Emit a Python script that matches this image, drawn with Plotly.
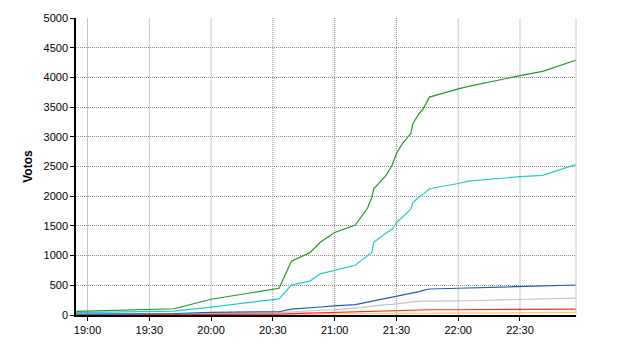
import plotly.graph_objects as go

day = "2000-01-01 "
times = ["18:54","19:42","20:00","20:33","20:39","20:48","20:53","21:00","21:10","21:13",
         "21:16","21:18","21:19","21:21","21:25","21:28","21:30","21:33","21:35","21:37",
         "21:38","21:41","21:43","21:46","22:00","22:05","22:30","22:41","22:57"]

green = [60,105,265,450,905,1050,1225,1390,1515,1650,
         1800,1975,2125,2200,2350,2530,2725,2890,2980,3055,
         3225,3390,3470,3668,3806,3850,4029,4101,4289]
cyan = [40,65,133,271,505,571,693,754,837,920,
        990,1050,1225,1280,1380,1448,1558,1650,1710,1781,
        1891,1991,2031,2125,2214,2253,2330,2350,2531]
blue = [15,25,45,55,100,116,135,155,175,195,
        215,230,240,255,280,300,310,330,350,360,
        370,393,415,438,450,455,476,485,505]
gray = [5,10,20,40,55,70,80,90,110,125,
        140,150,155,165,175,180,185,200,210,220,
        225,230,232,235,238,240,266,270,285]
red = [0,2,8,15,22,30,35,43,48,52,
       55,58,60,62,66,70,72,76,80,83,
       85,86,87,88,88,89,95,97,100]
orange = [0,2,5,10,12,14,16,18,20,21,
          22,23,24,25,26,27,28,30,31,32,
          33,34,35,35,38,38,40,41,43]

series = [("gray", gray, "#c4c4c4"), ("orange", orange, "#ffc966"), ("red", red, "#ff2a2a"),
          ("blue", blue, "#1f5fae"), ("cyan", cyan, "#1fcccc"), ("green", green, "#229a22")]

tick_times = ["19:00","19:30","20:00","20:30","21:00","21:30","22:00","22:30"]
dotted_ticks = ["20:30","21:00","21:30"]
x_start = "18:54:24"
x_end = "22:57:12"

x = [day + t for t in times]
fig = go.Figure()
for name, vals, col in series:
    fig.add_trace(go.Scatter(x=x, y=vals, mode="lines", name=name,
                             line=dict(color=col, width=1.2), showlegend=False))

shapes = []
for t in tick_times:
    dotted = t in dotted_ticks
    shapes.append(dict(type="line", xref="x", yref="paper", x0=day + t, x1=day + t, y0=0, y1=1,
                       line=dict(color="#909090" if dotted else "#c8c8c8", width=1,
                                 dash="1px,1px" if dotted else "solid"), layer="below"))
shapes.append(dict(type="line", xref="paper", yref="paper", x0=1, x1=1, y0=0, y1=1,
                   line=dict(color="#c8c8c8", width=1), layer="below"))

fig.update_layout(
    width=640, height=350,
    margin=dict(l=76, r=64, t=15, b=35),
    paper_bgcolor="white", plot_bgcolor="white",
    font=dict(family="Liberation Sans, Arial, sans-serif", size=11, color="black"),
    shapes=shapes,
    xaxis=dict(type="date", range=[day + x_start, day + x_end],
               tickvals=[day + t for t in tick_times], ticktext=tick_times,
               showgrid=False, showline=True, linecolor="black", linewidth=1.5,
               ticks="outside", ticklen=4, tickcolor="black", zeroline=False),
    yaxis=dict(range=[0, 5000], dtick=500, showgrid=True, gridcolor="#909090",
               griddash="1px,1px", gridwidth=1, showline=True, linecolor="black", linewidth=1.5,
               ticks="outside", ticklen=4, tickcolor="black", zeroline=False,
               title=dict(text="<b>Votos</b>", standoff=8, font=dict(size=12))),
)
fig.write_html("out.html")
